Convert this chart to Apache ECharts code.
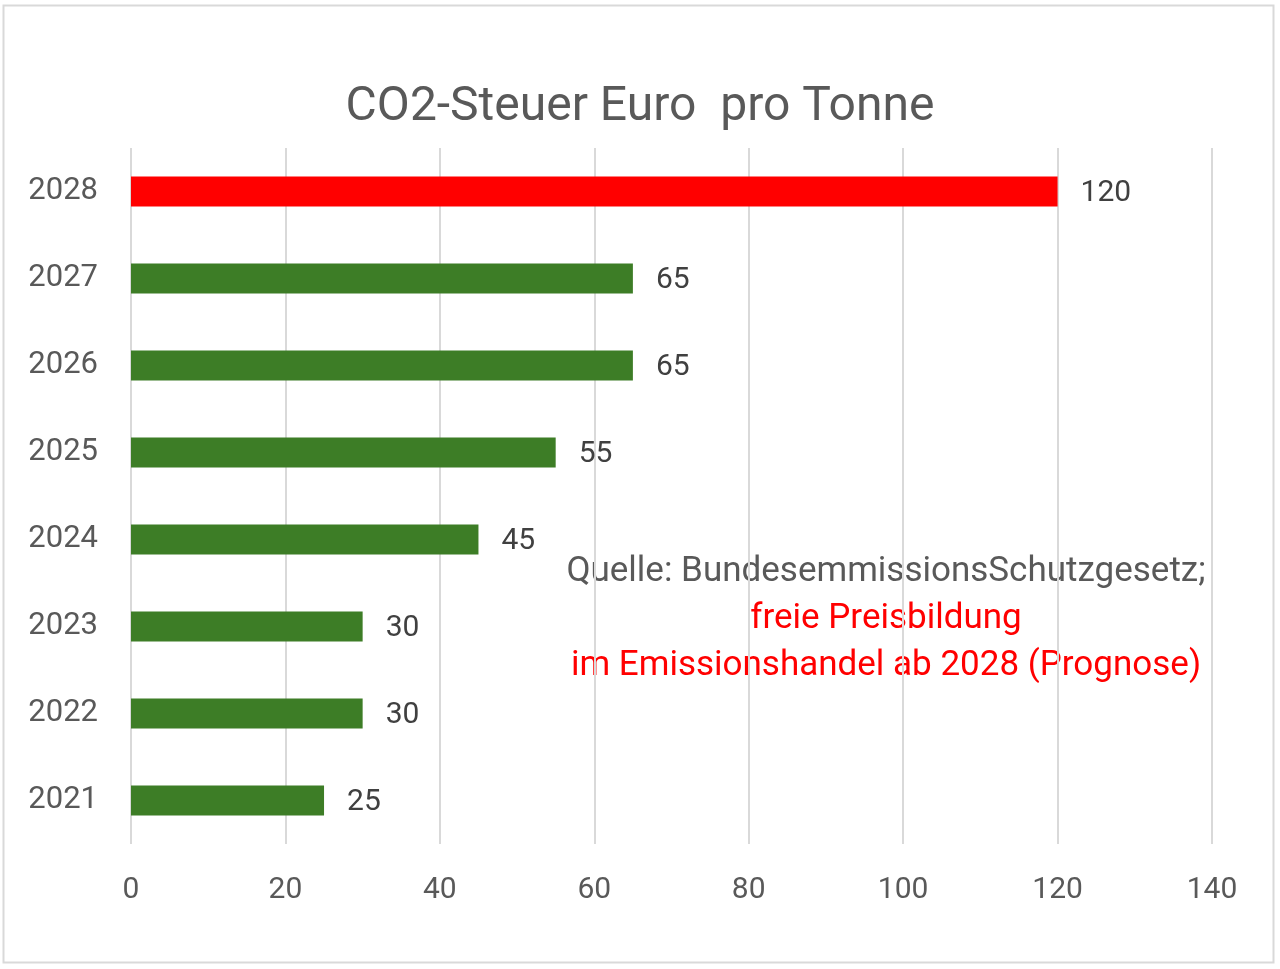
<!DOCTYPE html>
<html><head><meta charset="utf-8">
<script src="https://cdn.jsdelivr.net/npm/echarts@6/dist/echarts.min.js"></script>
<style>html,body{margin:0;padding:0;background:#fff}#c{width:1280px;height:969px}</style>
</head><body><div id="c"></div>
<script>
const years = ['2021','2022','2023','2024','2025','2026','2027','2028'];
const values = [25, 30, 30, 45, 55, 65, 65, 120];
const barColors = ['#3d7d26','#3d7d26','#3d7d26','#3d7d26','#3d7d26','#3d7d26','#3d7d26','#ff0000'];
const xTicks = [0, 20, 40, 60, 80, 100, 120, 140];
const titleText = 'CO2-Steuer Euro  pro Tonne';
const noteGray = 'Quelle: BundesemmissionsSchutzgesetz;';
const noteRed1 = 'freie Preisbildung';
const noteRed2 = 'im Emissionshandel ab 2028 (Prognose)';

const FONT = 'Roboto, "Noto Sans", sans-serif';
const chart = echarts.init(document.getElementById('c'));
chart.setOption({
  animation: false,
  textStyle: { fontFamily: FONT },
  title: {
    text: titleText, left: 'center', top: 79,
    textStyle: { fontSize: 48, fontWeight: 'normal', color: '#595959', fontFamily: FONT }
  },
  grid: { left: 131, right: 68, top: 148, bottom: 125, containLabel: false },
  xAxis: {
    type: 'value', min: xTicks[0], max: xTicks[xTicks.length - 1], interval: 20,
    axisLine: { show: false }, axisTick: { show: false },
    splitLine: { lineStyle: { color: '#d9d9d9', width: 2 } },
    axisLabel: { fontSize: 30, color: '#595959', margin: 31 }
  },
  yAxis: {
    type: 'category', data: years,
    axisLine: { show: false }, axisTick: { show: false },
    axisLabel: { fontSize: 31, color: '#595959', margin: 33 }
  },
  series: [{
    type: 'bar', barWidth: 30,
    data: values.map((v, i) => ({ value: v, itemStyle: { color: barColors[i] } })),
    label: { show: true, position: 'right', distance: 23, offset: [0, 2], fontSize: 30, color: '#404040' }
  }],
  graphic: [
    { type: 'rect', shape: { x: 3.5, y: 5.5, width: 1270, height: 957 },
      style: { fill: 'none', stroke: '#d9d9d9', lineWidth: 2 }, silent: true },
    { type: 'text', x: 886, y: 572, style: { text: noteGray, textAlign: 'center', textVerticalAlign: 'middle',
      fontSize: 35, fill: '#595959', fontFamily: FONT } },
    { type: 'text', x: 886, y: 619, style: { text: noteRed1, textAlign: 'center', textVerticalAlign: 'middle',
      fontSize: 35, fill: '#ff0000', fontFamily: FONT } },
    { type: 'text', x: 886, y: 666, style: { text: noteRed2, textAlign: 'center', textVerticalAlign: 'middle',
      fontSize: 35, fill: '#ff0000', fontFamily: FONT } }
  ]
});
</script></body></html>
